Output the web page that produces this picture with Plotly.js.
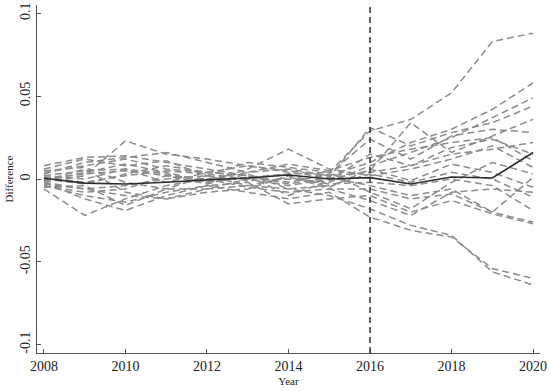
<!DOCTYPE html>
<html>
<head>
<meta charset="utf-8">
<script src="https://cdn.plot.ly/plotly-3.0.1.min.js"></script>
<style>html,body{margin:0;padding:0;background:#fff}#chart{width:550px;height:391px}</style>
</head>
<body>
<div id="chart"></div>
<script>
const years = [2008, 2009, 2010, 2011, 2012, 2013, 2014, 2015, 2016, 2017, 2018, 2019, 2020];
const treatmentYear = 2016;
const actualEffect = [0.0005, -0.0025, -0.003, -0.002, -0.0005, 0.0006, 0.0024, 0.000, 0.0008, -0.003, 0.0012, 0.0006, 0.016];
const placebo01 = [0.002, 0.005, 0.006, 0.003, -0.002, 0.001, 0.003, 0.004, 0.029, 0.036, 0.052, 0.083, 0.088];
const placebo02 = [0.000, 0.003, 0.005, 0.002, 0.000, 0.004, 0.006, 0.002, 0.010, 0.022, 0.030, 0.042, 0.058];
const placebo03 = [-0.003, -0.006, -0.004, 0.000, 0.002, -0.001, 0.000, -0.002, 0.008, 0.016, 0.025, 0.037, 0.049];
const placebo04 = [0.004, 0.008, 0.012, 0.006, 0.004, 0.008, 0.004, 0.001, 0.031, 0.020, 0.028, 0.034, 0.044];
const placebo05 = [0.001, -0.002, 0.002, 0.005, 0.003, 0.000, -0.004, 0.000, 0.005, 0.034, 0.016, 0.026, 0.036];
const placebo06 = [0.008, 0.013, 0.014, 0.010, 0.006, 0.002, -0.002, 0.003, 0.024, 0.012, 0.026, 0.030, 0.028];
const placebo07 = [-0.002, 0.002, 0.023, 0.015, 0.012, 0.008, 0.005, 0.002, 0.004, 0.008, 0.015, 0.018, 0.022];
const placebo08 = [0.003, 0.010, 0.013, 0.016, 0.010, 0.004, 0.009, 0.005, 0.013, 0.018, 0.022, 0.025, 0.011];
const placebo09 = [-0.001, 0.004, 0.009, 0.004, -0.002, 0.006, 0.018, 0.006, 0.002, 0.006, 0.012, 0.020, 0.007];
const placebo10 = [0.000, -0.003, 0.003, 0.008, 0.004, 0.002, -0.003, 0.001, -0.004, -0.010, -0.006, -0.020, 0.001];
const placebo11 = [0.005, 0.007, -0.002, -0.006, 0.002, -0.004, 0.001, -0.003, -0.002, -0.004, 0.000, -0.004, -0.019];
const placebo12 = [-0.004, -0.008, -0.006, 0.002, -0.003, 0.003, -0.006, -0.004, 0.003, -0.002, 0.004, 0.000, -0.011];
const placebo13 = [-0.006, -0.022, -0.012, -0.004, 0.000, -0.005, -0.008, -0.006, -0.006, -0.012, -0.009, -0.020, -0.026];
const placebo14 = [-0.002, -0.012, -0.019, -0.010, -0.004, -0.002, -0.015, -0.012, -0.010, -0.020, -0.013, -0.021, -0.027];
const placebo15 = [-0.004, -0.010, -0.014, -0.008, -0.004, -0.008, -0.012, -0.008, -0.023, -0.031, -0.035, -0.054, -0.060];
const placebo16 = [-0.002, -0.006, -0.010, -0.012, -0.006, -0.004, -0.006, -0.010, -0.018, -0.028, -0.034, -0.056, -0.064];
const placebo17 = [0.006, 0.012, 0.008, 0.011, 0.002, 0.010, 0.007, 0.004, -0.008, -0.018, -0.002, 0.010, 0.003];
const placebo18 = [-0.005, -0.004, -0.016, -0.006, -0.006, 0.000, 0.003, -0.005, 0.006, -0.001, 0.009, 0.004, -0.005];
const placebo19 = [0.002, 0.000, 0.006, -0.002, 0.004, 0.002, -0.010, -0.001, 0.015, 0.008, 0.019, 0.024, 0.015];
const placebo20 = [-0.001, 0.006, -0.008, -0.012, -0.008, -0.006, 0.002, -0.006, -0.013, -0.022, -0.008, -0.006, -0.008];
const yTickVals = [-0.1, -0.05, 0, 0.05, 0.1];
const yTickText = ["-0.1", "-0.05", "0", "0.05", "0.1"];
const xTickVals = [2008, 2010, 2012, 2014, 2016, 2018, 2020];
const xTickText = ["2008", "2010", "2012", "2014", "2016", "2018", "2020"];

const placebos = [placebo01, placebo02, placebo03, placebo04, placebo05, placebo06, placebo07, placebo08, placebo09, placebo10,
                  placebo11, placebo12, placebo13, placebo14, placebo15, placebo16, placebo17, placebo18, placebo19, placebo20];

const traces = placebos.map(v => ({
  x: years, y: v, type: 'scatter', mode: 'lines',
  line: {color: 'rgb(140,140,140)', width: 1.5, dash: '7px,4px'},
  hoverinfo: 'skip', showlegend: false
}));
traces.push({
  x: years, y: actualEffect, type: 'scatter', mode: 'lines',
  line: {color: 'rgb(45,45,45)', width: 1.6},
  showlegend: false
});

const font = "Liberation Serif, Times New Roman, serif";
const layout = {
  width: 550, height: 391,
  margin: {l: 37, r: 10, t: 5, b: 38},
  paper_bgcolor: '#fff', plot_bgcolor: '#fff',
  font: {family: font, size: 14, color: '#222'},
  showlegend: false,
  xaxis: {
    range: [2007.83, 2020.17], tickvals: xTickVals, ticktext: xTickText,
    showgrid: false, zeroline: false, showline: true, linecolor: '#555', linewidth: 1,
    ticks: 'inside', ticklen: 4, tickcolor: '#555',
    tickfont: {family: font, size: 14, color: '#222'},
    title: {text: 'Year', font: {family: font, size: 11, color: '#222'}, standoff: 4}
  },
  yaxis: {
    range: [-0.105, 0.105], tickvals: yTickVals, ticktext: yTickText, tickangle: -90,
    showgrid: false, zeroline: false, showline: true, linecolor: '#555', linewidth: 1,
    ticks: 'inside', ticklen: 4, tickcolor: '#555',
    tickfont: {family: font, size: 14, color: '#222'},
    title: {text: 'Difference', font: {family: font, size: 11, color: '#222'}, standoff: 2}
  },
  shapes: [{
    type: 'line', xref: 'x', yref: 'paper', x0: treatmentYear, x1: treatmentYear, y0: 0, y1: 1,
    line: {color: 'rgb(50,50,50)', width: 1.5, dash: '6px,4px'}
  }]
};
Plotly.newPlot('chart', traces, layout, {staticPlot: true, displayModeBar: false});
</script>
</body>
</html>
